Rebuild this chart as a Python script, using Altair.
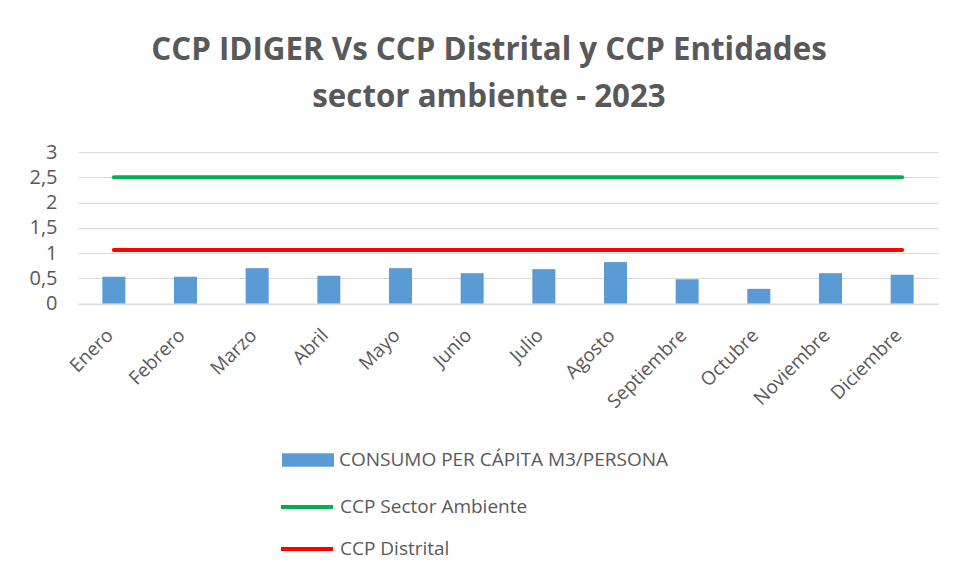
import altair as alt
import pandas as pd

months = ["Enero", "Febrero", "Marzo", "Abril", "Mayo", "Junio", "Julio",
          "Agosto", "Septiembre", "Octubre", "Noviembre", "Diciembre"]
consumo = [0.53, 0.53, 0.70, 0.55, 0.70, 0.60, 0.68, 0.82, 0.48, 0.29, 0.60, 0.57]
ccp_sector = [2.5] * 12
ccp_distrital = [1.06] * 12

bar_name = "CONSUMO PER CÁPITA M3/PERSONA"
line_names = ["CCP Sector Ambiente", "CCP Distrital"]

df_bar = pd.DataFrame({"mes": months, "valor": consumo, "serie": bar_name})
df_line = pd.concat([
    pd.DataFrame({"mes": months, "valor": ccp_sector, "serie": line_names[0]}),
    pd.DataFrame({"mes": months, "valor": ccp_distrital, "serie": line_names[1]}),
])

FONT = "Open Sans"
GRAY = "#595959"

x = alt.X("mes:N", sort=months, title=None,
          scale=alt.Scale(paddingInner=0, paddingOuter=0),
          axis=alt.Axis(labelAngle=-45, labelFontSize=19, labelColor=GRAY, labelFont=FONT,
                        ticks=False, domainColor="#d9d9d9", labelPadding=22, labelOffset=-10,
                        grid=False))
y = alt.Y("valor:Q", title=None,
          scale=alt.Scale(domain=[0, 3], nice=False),
          axis=alt.Axis(values=[0, 0.5, 1, 1.5, 2, 2.5, 3], labelFontSize=20, labelColor=GRAY,
                        labelFont=FONT, ticks=False, domain=False, gridColor="#d9d9d9",
                        labelPadding=21, labelExpr="replace(toString(datum.value), '.', ',')"))

bars = alt.Chart(df_bar).mark_bar(size=23).encode(
    x=x, y=y,
    fill=alt.Fill("serie:N", scale=alt.Scale(domain=[bar_name], range=["#5B9BD5"]),
                  legend=alt.Legend(title=None, orient="none", legendX=204, legendY=295,
                                    symbolType="M-2,-0.52H2V0.52H-2Z", symbolSize=676,
                                    symbolStrokeWidth=0, symbolOffset=13,
                                    labelFontSize=19, labelColor=GRAY,
                                    labelFont=FONT, labelOffset=18, labelLimit=0)),
)

lines = alt.Chart(df_line).mark_line(strokeWidth=4, strokeCap="round").encode(
    x=x, y=y,
    stroke=alt.Stroke("serie:N", scale=alt.Scale(domain=line_names, range=["#00B050", "#FF0000"]),
                      legend=alt.Legend(title=None, orient="none", legendX=201, legendY=340,
                                        symbolType="M-2,0H2", symbolSize=676, symbolStrokeWidth=4,
                                        symbolOffset=13,
                                        labelFontSize=19, labelColor=GRAY, labelFont=FONT,
                                        labelOffset=18, rowPadding=17, labelLimit=0)),
    detail="serie:N",
)

chart = alt.layer(bars, lines).properties(
    width=860, height=151.5,
    autosize=alt.AutoSizeParams(type="none"),
    padding={"left": 70, "top": 144, "right": 8, "bottom": 260},
    title=alt.TitleParams(["CCP IDIGER Vs CCP Distrital y CCP Entidades", "sector ambiente - 2023"],
                          fontSize=31.3, font=FONT, fontWeight="bold", color=GRAY,
                          anchor="middle", dx=-19, offset=29, lineHeight=47),
).configure(background="white").configure_view(stroke=None)

chart.save("out.html", embed_options={"renderer": "svg", "actions": False})
